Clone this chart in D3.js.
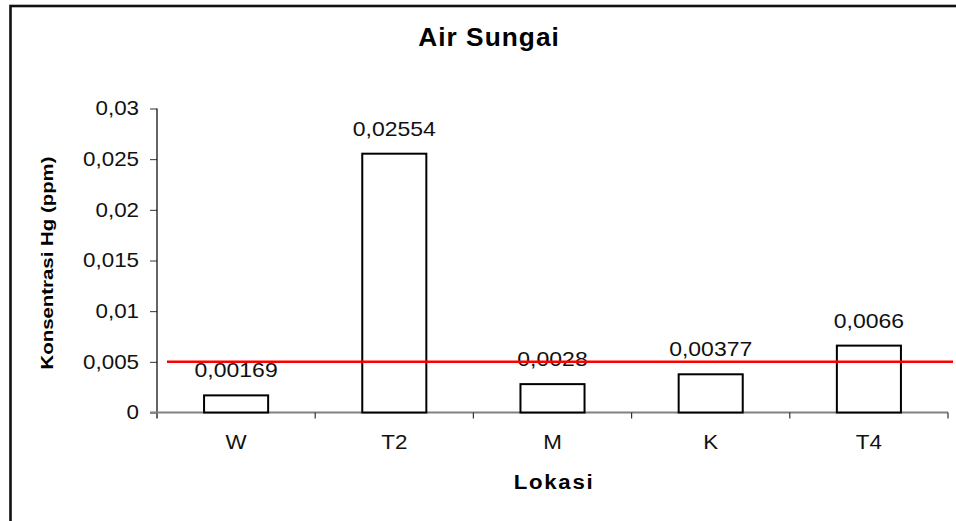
<!DOCTYPE html>
<html>
<head>
<meta charset="utf-8">
<script src="https://cdn.jsdelivr.net/npm/d3@7"></script>
<style>
  body { margin: 0; background: white; }
  svg { display: block; font-family: "Liberation Sans", Arial, sans-serif; }
</style>
</head>
<body>
<div id="chart"></div>
<script>
// data
let lokasi = ["W", "T2", "M", "K", "T4"];
let konsentrasi = [0.00169, 0.02554, 0.0028, 0.00377, 0.0066];
let yTicks = [0, 0.005, 0.01, 0.015, 0.02, 0.025, 0.03];
let bakuMutu = 0.005; // red limit line

let w = 956, h = 521;
let stretch = 1.12; // the excel text is a bit wider than plain Arial

let viz = d3.select("#chart")
  .append("svg")
    .attr("width", w)
    .attr("height", h)
;

// comma as decimal separator
let locale = d3.formatLocale({decimal: ",", thousands: ".", grouping: [3], currency: ["", ""]});
let fmt = locale.format("~f");

// outer frame (only top and left visible in the picture)
viz.append("rect")
  .attr("x", 10.5)
  .attr("y", 6)
  .attr("width", 990)
  .attr("height", 560)
  .attr("fill", "none")
  .attr("stroke", "#111")
  .attr("stroke-width", 2.6)
;

let plotLeft = 157, plotRight = 948, plotTop = 108.5, plotBottom = 412.5;

let xScale = d3.scaleBand()
  .domain(lokasi)
  .range([plotLeft, plotRight])
  .paddingInner(0.595)
  .paddingOuter(0.2975)
;
let yScale = d3.scaleLinear().domain([0, 0.03]).range([plotBottom, plotTop]);

// y axis
let yAxis = d3.axisLeft(yScale)
  .tickValues(yTicks)
  .tickFormat(fmt)
  .tickSize(7)
  .tickPadding(9)
;
let yAxisGroup = viz.append("g")
  .attr("class", "yaxisgroup")
  .attr("transform", "translate(" + plotLeft + ",0)")
  .call(yAxis)
;
yAxisGroup.select(".domain").remove();
yAxisGroup.selectAll(".tick line").attr("stroke", "#333");
yAxisGroup.selectAll("text")
  .attr("font-size", 20)
  .attr("fill", "#111")
  .attr("font-family", "Liberation Sans, Arial, sans-serif")
  .attr("transform", "scale(" + stretch + ",1)")
;
viz.append("line")
  .attr("x1", plotLeft).attr("x2", plotLeft)
  .attr("y1", plotTop).attr("y2", plotBottom + 6)
  .attr("stroke", "#111")
  .attr("stroke-width", 1.3)
;

// x axis (gray line with boundary ticks)
viz.append("line")
  .attr("x1", plotLeft - 7).attr("x2", plotRight)
  .attr("y1", plotBottom).attr("y2", plotBottom)
  .attr("stroke", "#808080")
  .attr("stroke-width", 2)
;
let step = xScale.step();
let bounds = d3.range(lokasi.length + 1).map(function(i){ return plotLeft + i * step; });
viz.selectAll(".xbound")
  .data(bounds.slice(1))
  .enter()
  .append("line")
    .attr("class", "xbound")
    .attr("x1", function(d){ return d; })
    .attr("x2", function(d){ return d; })
    .attr("y1", plotBottom)
    .attr("y2", plotBottom + 6)
    .attr("stroke", "#333")
    .attr("stroke-width", 1.2)
;
viz.selectAll(".xlabel")
  .data(lokasi)
  .enter()
  .append("text")
    .attr("class", "xlabel")
    .attr("transform", function(d){
      return "translate(" + (xScale(d) + xScale.bandwidth() / 2) + ",449) scale(" + stretch + ",1)";
    })
    .attr("text-anchor", "middle")
    .attr("font-size", 20)
    .attr("fill", "#111")
    .text(function(d){ return d; })
;

// bars
let data = lokasi.map(function(d, i){ return {lokasi: d, nilai: konsentrasi[i]}; });

viz.selectAll(".bar")
  .data(data)
  .enter()
  .append("rect")
    .attr("class", "bar")
    .attr("x", function(d){ return xScale(d.lokasi); })
    .attr("y", function(d){ return yScale(d.nilai); })
    .attr("width", xScale.bandwidth())
    .attr("height", function(d){ return plotBottom - yScale(d.nilai); })
    .attr("fill", "white")
    .attr("stroke", "black")
    .attr("stroke-width", 2)
;

viz.selectAll(".nilai")
  .data(data)
  .enter()
  .append("text")
    .attr("class", "nilai")
    .attr("transform", function(d){
      let cx = xScale(d.lokasi) + xScale.bandwidth() / 2;
      let cy = yScale(d.nilai) - 18;
      return "translate(" + cx + "," + cy + ") scale(" + (stretch + 0.03) + ",1)";
    })
    .attr("text-anchor", "middle")
    .attr("font-size", 20)
    .attr("fill", "#111")
    .text(function(d){ return fmt(d.nilai); })
;

// limit line
viz.append("line")
  .attr("x1", 167).attr("x2", 953)
  .attr("y1", yScale(bakuMutu)).attr("y2", yScale(bakuMutu))
  .attr("stroke", "#ff0000")
  .attr("stroke-width", 2.5)
;

// titles
viz.append("text")
  .attr("transform", "translate(489,46) scale(1.05,1)")
  .attr("text-anchor", "middle")
  .attr("font-size", 25)
  .attr("font-weight", "bold")
  .attr("letter-spacing", 1)
  .text("Air Sungai")
;
viz.append("text")
  .attr("transform", "translate(554,489) scale(1.06,1)")
  .attr("text-anchor", "middle")
  .attr("font-size", 21)
  .attr("font-weight", "bold")
  .attr("letter-spacing", 1.6)
  .text("Lokasi")
;
viz.append("text")
  .attr("transform", "translate(53,263) rotate(-90)")
  .attr("text-anchor", "middle")
  .attr("font-size", 17)
  .attr("font-weight", "bold")
  .attr("textLength", 213)
  .attr("lengthAdjust", "spacingAndGlyphs")
  .text("Konsentrasi Hg (ppm)")
;
</script>
</body>
</html>
